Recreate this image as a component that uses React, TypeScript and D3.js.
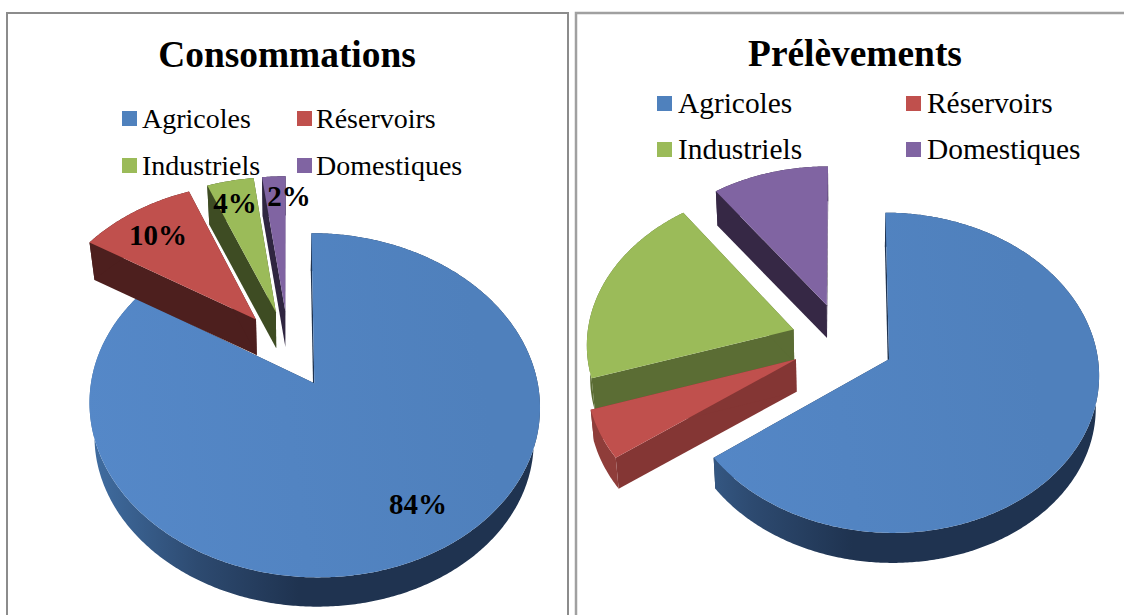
import * as d3 from 'd3';

const categories = ['Agricoles', 'Réservoirs', 'Industriels', 'Domestiques'];
const consommations = [84, 10, 4, 2];
const prelevements = [65, 5, 20, 10];
const consommationLabels = ['84%', '10%', '4%', '2%'];

const faceColors = ['#4f81bd', '#c0504d', '#9bbb59', '#8064a2'];
const color = d3.scaleOrdinal<string, string>().domain(categories).range(faceColors);

// back slices first, the red one overlaps the green wall
const drawOrder = [0, 3, 2, 1];

const charts = [
  {
    id: 'left',
    title: 'Consommations',
    titleX: 287,
    titleY: 67,
    values: consommations,
    labels: consommationLabels,
    labelPos: [[418, 514], [158, 245], [235, 213], [289, 206]],
    wallColors: ['#1f3350', '#4d1f1e', '#3e4c23', '#2f2540'],
    ox: 288.5, oy: 348.5, sx: 217.5, sy: 160.5, persp: 0.125, explode: 0.24, wallScale: 0.975, wallDrop: 35,
    legendX: [122, 297], legendText: [142, 316], legendY: [128, 175], legendSize: 28,
  },
  {
    id: 'right',
    title: 'Prélèvements',
    titleX: 855,
    titleY: 66,
    values: prelevements,
    labels: [] as string[],
    labelPos: [] as number[][],
    wallColors: ['#1f3350', '#843634', '#5b6d34', '#362845'],
    ox: 842.5, oy: 341.5, sx: 207, sy: 156, persp: 0.083, explode: 0.25, wallScale: 0.987, wallDrop: 32.5,
    legendX: [657, 906], legendText: [678, 927], legendY: [113, 159], legendSize: 29.4,
  },
];

type Chart = (typeof charts)[number];
type Pt = [number, number];

const serif = '"Liberation Serif", serif';
const linePath = d3.line<Pt>().x(d => d[0]).y(d => d[1]);

function Pie({ chart }: { chart: Chart }) {
  const arcs = d3.pie<number>().sort(null).value(d => d)(chart.values);

  // flat pie plane to screen, with some perspective
  const project = (u: number, v: number): Pt => {
    const k = 1 / (1 - chart.persp * v);
    return [chart.ox + chart.sx * u * k, chart.oy + chart.sy * v * k];
  };
  const drop = ([x, y]: Pt): Pt => [
    chart.ox + (x - chart.ox) * chart.wallScale,
    chart.oy + (y - chart.oy) * chart.wallScale + chart.wallDrop,
  ];

  return (
    <g>
      {drawOrder.map(i => {
        const a = arcs[i];
        const mid = (a.startAngle + a.endAngle) / 2;
        const u0 = chart.explode * Math.sin(mid);
        const v0 = -chart.explode * Math.cos(mid);
        const n = Math.ceil((a.endAngle - a.startAngle) / 0.01);
        const rim = d3.range(n + 1).map(j => {
          const t = a.startAngle + ((a.endAngle - a.startAngle) * j) / n;
          return project(u0 + Math.sin(t), v0 - Math.cos(t));
        });
        const apex = project(u0, v0);
        const first = rim[0];
        const last = rim[rim.length - 1];
        const outerWall = [...rim, ...rim.map(drop).reverse()];
        const wallFill = i === 0 ? `url(#wall-${chart.id})` : i === 1 && chart.id === 'right' ? '#8f3d3a' : chart.wallColors[i];
        return (
          <g key={i}>
            <path d={linePath([apex, first, drop(first), drop(apex)]) + 'Z'} fill={chart.wallColors[i]} />
            <path d={linePath([apex, last, drop(last), drop(apex)]) + 'Z'} fill={chart.wallColors[i]} />
            <path d={linePath(outerWall) + 'Z'} fill={wallFill} />
            <path
              d={linePath([apex, ...rim]) + 'Z'}
              fill={i === 0 ? `url(#face-${chart.id})` : color(categories[i])}
            />
          </g>
        );
      })}
    </g>
  );
}

function Legend({ chart }: { chart: Chart }) {
  return (
    <g>
      {categories.map((c, i) => {
        const col = i % 2;
        const row = Math.floor(i / 2);
        return (
          <g key={c}>
            <rect
              x={chart.legendX[col]}
              y={chart.legendY[row] - 17}
              width={15}
              height={15}
              fill={color(c)}
            />
            <text x={chart.legendText[col]} y={chart.legendY[row]} fontSize={chart.legendSize} fontFamily={serif} fill="#000">
              {c}
            </text>
          </g>
        );
      })}
    </g>
  );
}

export default function App() {
  return (
    <svg
      width={1124}
      height={615}
      style={{ position: 'absolute', left: 0, top: 0, display: 'block', background: '#fff' }}
    >
      <defs>
        {charts.map(c => (
          <g key={c.id}>
            <linearGradient id={`face-${c.id}`} gradientUnits="userSpaceOnUse" x1={c.ox - 200} y1={c.oy + 120} x2={c.ox + 200} y2={c.oy + 60}>
              <stop offset="0" stopColor="#5588c8" />
              <stop offset="1" stopColor="#4f80bc" />
            </linearGradient>
            <linearGradient id={`wall-${c.id}`} gradientUnits="userSpaceOnUse" x1={c.ox - 190} y1={0} x2={c.ox + 10} y2={0}>
              <stop offset="0" stopColor="#3f6b9e" />
              <stop offset="0.5" stopColor="#2d4a70" />
              <stop offset="1" stopColor="#1f3350" />
            </linearGradient>
          </g>
        ))}
      </defs>

      <rect x={7} y={13} width={561} height={640} fill="none" stroke="#8c8c8c" strokeWidth={2} />
      <rect x={576} y={13} width={600} height={640} fill="none" stroke="#a0a0a0" strokeWidth={2.5} />

      {charts.map(c => (
        <g key={c.id}>
          <text x={c.titleX} y={c.titleY} textAnchor="middle" fontSize={37.4} fontWeight="bold" fontFamily={serif} fill="#000">
            {c.title}
          </text>
          <Legend chart={c} />
          <Pie chart={c} />
          {c.labels.map((l, i) => (
            <text
              key={l}
              x={c.labelPos[i][0]}
              y={c.labelPos[i][1]}
              textAnchor="middle"
              fontSize={29}
              fontWeight="bold"
              fontFamily={serif}
              fill="#000"
            >
              {l}
            </text>
          ))}
        </g>
      ))}
    </svg>
  );
}
